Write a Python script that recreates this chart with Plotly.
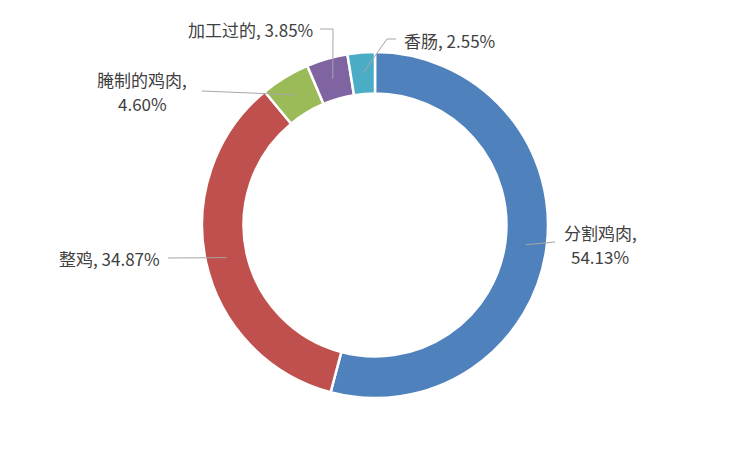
import numpy as np
import plotly.graph_objects as go

labels = ['分割鸡肉', '整鸡', '腌制的鸡肉', '加工过的', '香肠']
values = [54.13, 34.87, 4.60, 3.85, 2.55]
colors = ['#4F81BD', '#C0504D', '#9BBB59', '#8064A2', '#4BACC6']

W, H = 751, 451
OFF = 8  # page body margin shifts the figure
cx, cy, r_out, hole = 375, 225, 173, 0.76

# label lines (text, x, y), alignment, and leader path points (px) before the tip
label_cfg = [
    dict(lines=[('分割鸡肉,', 600, 232), ('54.13%', 600, 256)], xanchor='center', path=[(555, 242)]),
    dict(lines=[('整鸡, 34.87%', 162, 258)], xanchor='right', path=[(168, 258)]),
    dict(lines=[('腌制的鸡肉,', 142, 79), ('4.60%', 142, 103)], xanchor='center', path=[(202, 91)]),
    dict(lines=[('加工过的, 3.85%', 315, 29)], xanchor='right', path=[(320, 29), (333, 29)]),
    dict(lines=[('香肠, 2.55%', 402, 40)], xanchor='left', path=[(396, 39), (387, 39)]),
]

fig = go.Figure()
fig.add_trace(go.Pie(
    labels=labels, values=values, hole=hole, sort=False, direction='clockwise',
    rotation=0, textinfo='none', hoverinfo='label+percent',
    marker=dict(colors=colors, line=dict(color='white', width=2.5)),
    domain=dict(x=[(cx - r_out - OFF) / W, (cx + r_out - OFF) / W],
                y=[1 - (cy + r_out - OFF) / H, 1 - (cy - r_out - OFF) / H]),
    showlegend=False,
))

# slice midpoints on the ring, from the data
total = sum(values)
cum = np.cumsum([0] + values[:-1])
r_mid = r_out * (1 + hole) / 2
shapes = []
annotations = []
for v, c0, cfg in zip(values, cum, label_cfg):
    ang = np.deg2rad((c0 + v / 2) / total * 360)
    tx = cx + r_mid * np.sin(ang)
    ty = cy - r_mid * np.cos(ang)
    pts = cfg['path'] + [(tx, ty)]
    d = 'M ' + ' L '.join(f'{px:.1f},{py:.1f}' for px, py in pts)
    shapes.append(dict(type='path', path=d, xref='x', yref='y',
                       line=dict(color='#A6A6A6', width=1)))
    for text, lx, ly in cfg['lines']:
        annotations.append(dict(text=text, x=lx, y=ly, xref='x', yref='y',
                                xanchor=cfg['xanchor'], yanchor='middle', showarrow=False,
                                font=dict(size=17, color='#404040')))

fig.update_layout(
    width=W, height=H,
    margin=dict(l=0, r=0, t=0, b=0),
    paper_bgcolor='white', plot_bgcolor='rgba(0,0,0,0)',
    font=dict(family='Noto Sans CJK SC', size=17, color='#404040'),
    xaxis=dict(range=[OFF, W + OFF], visible=False, fixedrange=True),
    yaxis=dict(range=[H + OFF, OFF], visible=False, fixedrange=True),
    shapes=shapes, annotations=annotations,
)

fig.write_html('out.html')
